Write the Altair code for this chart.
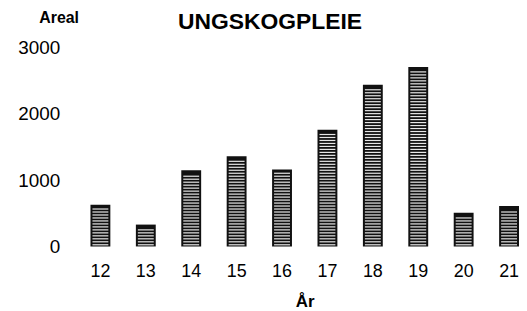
import altair as alt
import pandas as pd

years = ["12", "13", "14", "15", "16", "17", "18", "19", "20", "21"]
areal = [630, 330, 1150, 1360, 1160, 1760, 2440, 2710, 510, 610]

df = pd.DataFrame({"year": years, "areal": areal})

FONT = "Liberation Sans"

x = alt.X("year:N", sort=years,
          scale=alt.Scale(paddingInner=0.5624, paddingOuter=0),
          axis=alt.Axis(title="År", labelAngle=0, ticks=False, tickSize=0, domain=False,
                        labelPadding=16, labelFontSize=18, labelFont=FONT, labelColor="black",
                        titleFont=FONT, titleFontSize=17, titleFontWeight="bold",
                        titleColor="black", titlePadding=13))
y = alt.Y("areal:Q", scale=alt.Scale(domain=[0, 3000], nice=False),
          axis=alt.Axis(title="Areal", values=[0, 500, 1000, 1500, 2000, 2500, 3000],
                        format="d",
                        grid=False, ticks=False, tickSize=0, domain=False,
                        labelPadding=31, labelFontSize=19, labelFont=FONT, labelColor="black",
                        titleAngle=0, titleAlign="center", titleBaseline="middle",
                        titleX=-32, titleY=-30, titleFont=FONT, titleFontSize=16,
                        titleFontWeight="bold", titleColor="black"))

bars = alt.Chart(df).mark_bar(color="#111111").encode(x=x, y=y)

stripes = alt.Chart(df).transform_calculate(
    s="sequence(25, datum.areal - 45, 45)"
).transform_flatten(["s"]).mark_tick(
    color="white", thickness=1.2, size=16, orient="horizontal", opacity=0.9
).encode(x=alt.X("year:N", sort=years), y=alt.Y("s:Q"))

chart = alt.layer(bars, stripes).properties(
    width=431.3, height=200,
    padding={"left": 83, "top": 39, "right": 0, "bottom": 66},
    autosize=alt.AutoSizeParams(type="none"),
    title=alt.TitleParams("UNGSKOGPLEIE", font=FONT, fontSize=23, fontWeight="bold",
                          color="black", anchor="middle", dx=-35, offset=0, dy=24),
).configure_view(stroke=None)

chart.save("out.html", embed_options={"renderer": "svg", "actions": False})
